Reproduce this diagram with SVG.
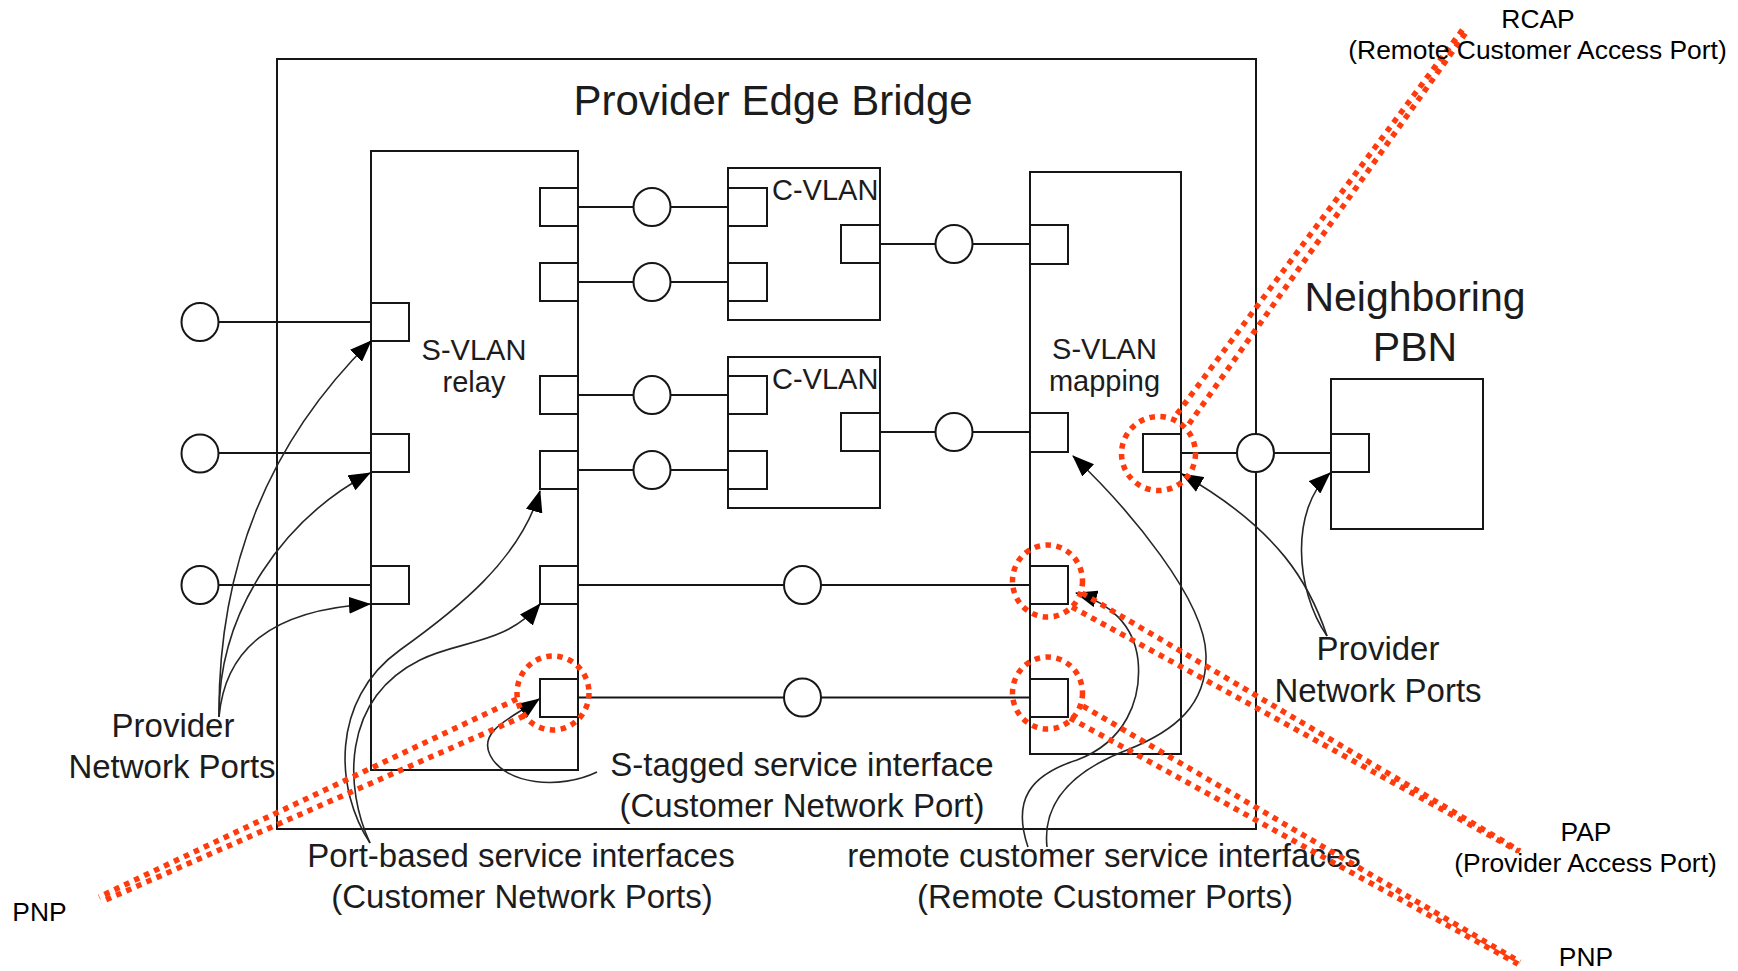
<svg xmlns="http://www.w3.org/2000/svg" width="1738" height="971" viewBox="0 0 1738 971">
  <style>
    .frame{fill:none;stroke:#161616;stroke-width:2}
    .port{fill:#fff;stroke:#161616;stroke-width:2}
    .link{fill:none;stroke:#161616;stroke-width:2}
    .lan{fill:#fff;stroke:#161616;stroke-width:2}
    .callout{fill:none;stroke:#262626;stroke-width:1.6}
    .ring{fill:none;stroke:#ff3b0d;stroke-width:5.5;stroke-dasharray:5.5 5.5}
    .trace{fill:none;stroke:#ff3b0d;stroke-width:5.5;stroke-dasharray:5.5 5.5}
    text{font-family:"Liberation Sans",Arial,Helvetica,sans-serif;fill:#1c1c1c}
    .title{font-size:42px}
    .unit{font-size:29px}
    .note{font-size:33px}
    .big{font-size:41px}
    .tag{font-size:26.4px;fill:#000}
  </style>
  <defs>
    <marker id="head" viewBox="0 0 22 17" refX="21" refY="8.5" markerWidth="22" markerHeight="17" markerUnits="userSpaceOnUse" orient="auto">
      <path d="M0,0 L22,8.5 L0,17 z" fill="#000"/>
    </marker>
  </defs>

  <!-- Provider Edge Bridge enclosure -->
  <g id="provider-edge-bridge">
    <rect class="frame" x="277" y="59" width="979" height="770"/>
    <text class="title" x="773" y="115" text-anchor="middle">Provider Edge Bridge</text>
  </g>

  <!-- links between ports and LAN circles -->
  <g id="connectors">
    <path class="link" d="M200,322 H371 M200,453 H371 M200,585 H371"/>
    <path class="link" d="M578,207 H728 M578,282 H728 M578,395 H728 M578,470 H728"/>
    <path class="link" d="M880,244 H1030 M880,432 H1030"/>
    <path class="link" d="M578,585 H1030 M578,697.5 H1030"/>
    <path class="link" d="M1181,453 H1331"/>
  </g>

  <!-- S-VLAN relay component -->
  <g id="s-vlan-relay">
    <rect class="frame" x="371" y="151" width="207" height="619"/>
    <rect class="port" x="371" y="303" width="38" height="38"/>
    <rect class="port" x="371" y="434" width="38" height="38"/>
    <rect class="port" x="371" y="566" width="38" height="38"/>
    <rect class="port" x="540" y="188" width="38" height="38"/>
    <rect class="port" x="540" y="263" width="38" height="38"/>
    <rect class="port" x="540" y="376" width="38" height="38"/>
    <rect class="port" x="540" y="451" width="38" height="38"/>
    <rect class="port" x="540" y="566" width="38" height="38"/>
    <rect class="port" x="540" y="679" width="38" height="38"/>
    <text class="unit" x="474" y="360" text-anchor="middle">S-VLAN</text>
    <text class="unit" x="474" y="392" text-anchor="middle">relay</text>
  </g>

  <!-- C-VLAN components -->
  <g id="c-vlan-1">
    <rect class="frame" x="728" y="168" width="152" height="152"/>
    <rect class="port" x="728" y="188" width="39" height="38"/>
    <rect class="port" x="728" y="263" width="39" height="38"/>
    <rect class="port" x="841" y="225" width="39" height="38"/>
    <text class="unit" x="772" y="200">C-VLAN</text>
  </g>
  <g id="c-vlan-2">
    <rect class="frame" x="728" y="357" width="152" height="151"/>
    <rect class="port" x="728" y="376" width="39" height="38"/>
    <rect class="port" x="728" y="451" width="39" height="38"/>
    <rect class="port" x="841" y="413" width="39" height="38"/>
    <text class="unit" x="772" y="389">C-VLAN</text>
  </g>

  <!-- S-VLAN mapping component -->
  <g id="s-vlan-mapping">
    <rect class="frame" x="1030" y="172" width="151" height="582"/>
    <rect class="port" x="1030" y="225" width="38" height="39"/>
    <rect class="port" x="1030" y="413" width="38" height="39"/>
    <rect class="port" x="1030" y="566" width="38" height="38"/>
    <rect class="port" x="1030" y="679" width="38" height="38"/>
    <rect class="port" x="1143" y="434" width="38" height="38"/>
    <text class="unit" x="1104.5" y="359" text-anchor="middle">S-VLAN</text>
    <text class="unit" x="1104.5" y="391" text-anchor="middle">mapping</text>
  </g>

  <!-- Neighboring PBN -->
  <g id="neighboring-pbn">
    <rect class="frame" x="1331" y="379" width="152" height="150"/>
    <rect class="port" x="1331" y="434" width="38" height="38"/>
    <text class="big" x="1415" y="311" text-anchor="middle">Neighboring</text>
    <text class="big" x="1415" y="361" text-anchor="middle">PBN</text>
  </g>

  <!-- LANs -->
  <g id="lans">
    <ellipse class="lan" cx="200" cy="322" rx="18.5" ry="19"/>
    <ellipse class="lan" cx="200" cy="453.5" rx="18.5" ry="19"/>
    <ellipse class="lan" cx="200" cy="585" rx="18.5" ry="19"/>
    <ellipse class="lan" cx="652" cy="207" rx="18.5" ry="19"/>
    <ellipse class="lan" cx="652" cy="282" rx="18.5" ry="19"/>
    <ellipse class="lan" cx="652" cy="395" rx="18.5" ry="19"/>
    <ellipse class="lan" cx="652" cy="470" rx="18.5" ry="19"/>
    <ellipse class="lan" cx="954" cy="244" rx="18.5" ry="19"/>
    <ellipse class="lan" cx="954" cy="432" rx="18.5" ry="19"/>
    <ellipse class="lan" cx="802.5" cy="585" rx="18.5" ry="19"/>
    <ellipse class="lan" cx="802.5" cy="697.5" rx="18.5" ry="19"/>
    <ellipse class="lan" cx="1255.5" cy="453" rx="18.5" ry="19"/>
  </g>

  <!-- labels with pointer curves -->
  <g id="label-pnp-left">
    <text class="note" x="173" y="737" text-anchor="middle">Provider</text>
    <text class="note" x="172" y="778" text-anchor="middle">Network Ports</text>
    <path class="callout" marker-end="url(#head)" d="M219,717 C218,580 260,450 371,341"/>
    <path class="callout" marker-end="url(#head)" d="M219,717 C218,610 285,518 370,473"/>
    <path class="callout" marker-end="url(#head)" d="M219,717 C225,650 270,610 370,604"/>
  </g>
  <g id="label-port-based">
    <text class="note" x="521" y="867" text-anchor="middle">Port-based service interfaces</text>
    <text class="note" x="522" y="908" text-anchor="middle">(Customer Network Ports)</text>
    <path class="callout" marker-end="url(#head)" d="M370,843 C335,790 330,700 400,650 C456,610 520,560 540,491"/>
    <path class="callout" marker-end="url(#head)" d="M370,843 C345,790 340,700 420,660 C460,640 505,645 540,604"/>
  </g>
  <g id="label-s-tagged">
    <text class="note" x="802" y="776" text-anchor="middle">S-tagged service interface</text>
    <text class="note" x="802" y="817" text-anchor="middle">(Customer Network Port)</text>
    <path class="callout" marker-end="url(#head)" d="M597,772 C560,790 505,785 490,755 C478,730 512,718 539,699"/>
  </g>
  <g id="label-remote">
    <text class="note" x="1104" y="867" text-anchor="middle">remote customer service interfaces</text>
    <text class="note" x="1105" y="908" text-anchor="middle">(Remote Customer Ports)</text>
    <path class="callout" marker-end="url(#head)" d="M1028,847 C1012,800 1030,775 1077,760 C1125,742 1142,700 1138,660 C1134,625 1110,603 1076,593"/>
    <path class="callout" marker-end="url(#head)" d="M1047,847 C1042,800 1075,770 1127,750 C1175,731 1207,705 1206,655 C1205,600 1130,510 1073,456"/>
  </g>
  <g id="label-pnp-right">
    <text class="note" x="1378" y="660" text-anchor="middle">Provider</text>
    <text class="note" x="1378" y="702" text-anchor="middle">Network Ports</text>
    <path class="callout" marker-end="url(#head)" d="M1327,636 C1310,585 1280,530 1182,474"/>
    <path class="callout" marker-end="url(#head)" d="M1327,636 C1295,590 1290,510 1330,473"/>
  </g>

  <!-- highlighted port types -->
  <g id="port-highlights">
    <ellipse class="ring" cx="553" cy="693" rx="36" ry="37"/>
    <ellipse class="ring" cx="1047.5" cy="581" rx="35" ry="36"/>
    <ellipse class="ring" cx="1047.5" cy="693" rx="35" ry="36"/>
    <ellipse class="ring" cx="1158.5" cy="453.5" rx="37" ry="37"/>
    <path class="trace" d="M517,699 L99,897 M524,716 L101,902"/>
    <path class="trace" d="M1177,414 L1463,29 M1189,424 L1467,31"/>
    <path class="trace" d="M1082,593 L1520,851 M1072,607 L1518,851"/>
    <path class="trace" d="M1083,706 L1520,962 M1070,718 L1518,964"/>
  </g>

  <g id="port-names">
    <text class="tag" x="1538" y="28" text-anchor="middle">RCAP</text>
    <text class="tag" x="1537.5" y="59" text-anchor="middle">(Remote Customer Access Port)</text>
    <text class="tag" x="1586" y="841" text-anchor="middle">PAP</text>
    <text class="tag" x="1585.5" y="872" text-anchor="middle">(Provider Access Port)</text>
    <text class="tag" x="1586" y="966" text-anchor="middle">PNP</text>
    <text class="tag" x="39.5" y="921" text-anchor="middle">PNP</text>
  </g>
</svg>
